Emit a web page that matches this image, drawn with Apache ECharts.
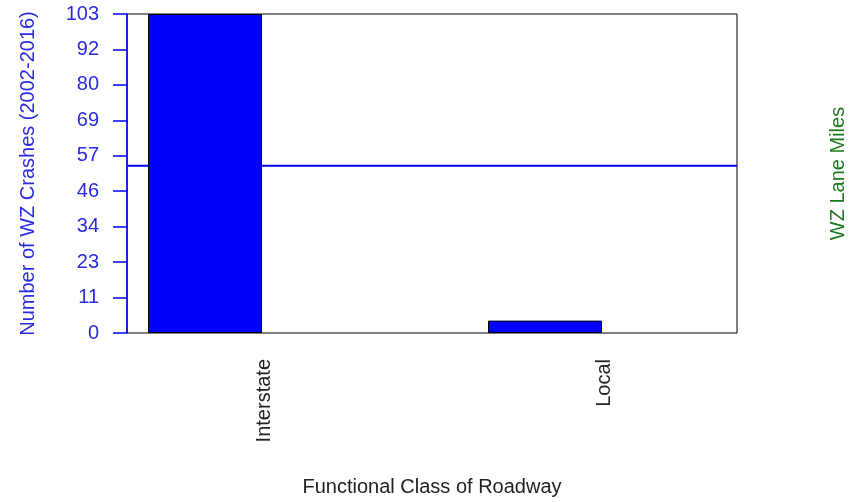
<!DOCTYPE html>
<html>
<head>
<meta charset="utf-8">
<script src="https://cdn.jsdelivr.net/npm/echarts@6/dist/echarts.min.js"></script>
<style>html,body{margin:0;padding:0;background:#fff}#c{width:861px;height:503px}</style>
</head>
<body>
<div id="c"></div>
<script>
const categories = ["Interstate", "Local"];
const crashes = [103, 4];
const laneMilesLine = 54;
const yMax = 103;
const yTickCount = 9;

(function () {
const FONT = '"Liberation Sans", Arial, sans-serif';
const chart = echarts.init(document.getElementById('c'));
const gTop = 14, gBottom = 170;
chart.setOption({
  animation: false,
  backgroundColor: '#fff',
  grid: [
    {left: 127, right: 124, top: gTop, bottom: gBottom, show: true, borderColor: '#000', borderWidth: 1, backgroundColor: 'transparent'},
    {left: 35, right: 146, top: gTop, bottom: gBottom},
    {left: 94, right: 87, top: gTop, bottom: gBottom}
  ],
  xAxis: [
    {gridIndex: 0, type: 'value', min: 0, max: 1, show: true,
     axisLine: {show: false}, axisTick: {show: false}, axisLabel: {show: false}, splitLine: {show: false},
     name: 'Functional Class of Roadway', nameLocation: 'middle', nameGap: 144,
     nameTextStyle: {fontFamily: FONT, fontSize: 20, color: '#222'}},
    {gridIndex: 1, type: 'category', data: categories, show: false},
    {gridIndex: 2, type: 'category', data: categories,
     axisLine: {show: false}, axisTick: {show: false}, splitLine: {show: false},
     axisLabel: {rotate: 90, margin: 26, fontFamily: FONT, fontSize: 20, color: '#222'}}
  ],
  yAxis: [
    {gridIndex: 0, type: 'value', min: 0, max: yMax, interval: yMax / yTickCount,
     axisLine: {show: true, lineStyle: {color: '#0000ff', width: 1.5}},
     axisTick: {show: true, length: 14, lineStyle: {color: '#0000ff', width: 1.5}},
     axisLabel: {margin: 28, fontFamily: FONT, fontSize: 20, color: '#2a2ae0',
                 formatter: v => String(Math.round(v))},
     splitLine: {show: false},
     name: 'Number of WZ Crashes (2002-2016)', nameLocation: 'middle', nameGap: 89,
     nameTextStyle: {fontFamily: FONT, fontSize: 20, color: '#2a2ae0'}},
    {gridIndex: 0, type: 'value', position: 'right', min: 0, max: yMax,
     axisLine: {show: false}, axisTick: {show: false}, axisLabel: {show: false}, splitLine: {show: false},
     name: 'WZ Lane Miles', nameLocation: 'middle', nameGap: 91, nameRotate: 90,
     nameTextStyle: {fontFamily: FONT, fontSize: 20, color: '#1f7a1f'}},
    {gridIndex: 1, type: 'value', min: 0, max: yMax, show: false},
    {gridIndex: 2, type: 'value', min: 0, max: yMax, show: false}
  ],
  series: [
    {type: 'line', xAxisIndex: 0, yAxisIndex: 0, data: [[0, laneMilesLine], [1, laneMilesLine]],
     symbol: 'none', lineStyle: {color: '#0000ff', width: 2}, z: 1},
    {type: 'bar', xAxisIndex: 1, yAxisIndex: 2, data: crashes, barWidth: 114,
     itemStyle: {color: '#0000ff', borderColor: '#000', borderWidth: 1}, z: 3}
  ]
});
})();
</script>
</body>
</html>
